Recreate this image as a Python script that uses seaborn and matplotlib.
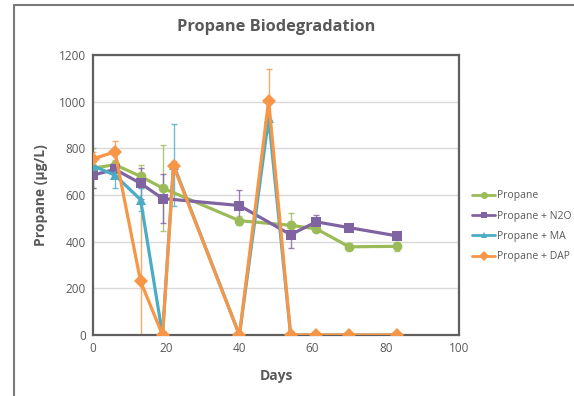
import matplotlib
matplotlib.use("Agg")
import matplotlib.pyplot as plt
import numpy as np
import pandas as pd
import seaborn as sns
from matplotlib.lines import Line2D

# Values
days_short = [0, 6, 13, 19, 40, 54, 61, 70, 83]
days_long = [0, 6, 13, 19, 22, 40, 48, 54, 61, 70, 83]

propane = [715, 730, 680, 630, 490, 470, 455, 378, 380]
propane_err = [85, 20, 50, 183, 20, 55, 15, 15, 20]

propane_n2o = [685, 710, 650, 585, 555, 430, 485, 460, 425]
propane_n2o_err = [55, 30, 65, 105, 65, 55, 30, 10, 10]

propane_ma = [725, 685, 580, 0, 730, 0, 930, 0, 0, 0, 0]
propane_ma_err = [40, 55, 50, 0, 175, 0, 60, 0, 0, 0, 0]

propane_dap = [755, 785, 230, 0, 725, 0, 1005, 0, 0, 0, 0]
propane_dap_err = [30, 45, 330, 0, 20, 0, 135, 0, 0, 0, 0]

series_names = ["Propane", "Propane + N2O", "Propane + MA", "Propane + DAP"]
colors = ["#9BBB59", "#8064A2", "#4BACC6", "#F79646"]
markers = ["o", "s", "^", "D"]

series = [
    (days_short, propane, propane_err),
    (days_short, propane_n2o, propane_n2o_err),
    (days_long, propane_ma, propane_ma_err),
    (days_long, propane_dap, propane_dap_err),
]

rows = []
for name, (d, v, e) in zip(series_names, series):
    for x, y, err in zip(d, v, e):
        rows.append({"Days": x, "Value": y, "Err": err, "Series": name})
df = pd.DataFrame(rows)

sns.set_style("white")
plt.rcParams["font.family"] = ["Open Sans", "DejaVu Sans"]

fig = plt.figure(figsize=(5.74, 3.96), dpi=100)
ax = fig.add_axes([93 / 574, 1 - 335 / 396, 366 / 574, 280 / 396])

palette = dict(zip(series_names, colors))
marker_map = dict(zip(series_names, markers))

# error bars first, thin and lighter
for name in series_names:
    sub = df[df["Series"] == name]
    ax.errorbar(sub["Days"], sub["Value"], yerr=sub["Err"], fmt="none",
                ecolor=palette[name], elinewidth=1, capsize=2.5,
                capthick=1, alpha=0.8, zorder=2)

sns.lineplot(data=df, x="Days", y="Value", hue="Series", style="Series",
             palette=palette, markers=marker_map, dashes=False, sort=False,
             linewidth=2.3, markersize=7, markeredgewidth=0,
             legend=False, ax=ax, zorder=3)

ax.set_xlim(0, 100)
ax.set_ylim(0, 1200)
ax.set_xticks(np.arange(0, 101, 20))
ax.set_yticks(np.arange(0, 1201, 200))
ax.grid(axis="y", color="#d9d9d9", linewidth=1)
ax.set_axisbelow(True)
for s in ax.spines.values():
    s.set_color("#5f5f5f")
    s.set_linewidth(1.6)
ax.tick_params(length=0, labelsize=8.5, colors="#595959", pad=5)

ax.set_xlabel("Days", fontsize=10, fontweight="bold", color="#595959", labelpad=10)
ax.set_ylabel("Propane (µg/L)", fontsize=10, fontweight="bold", color="#595959", labelpad=8)
fig.text(276 / 574, 1 - 27 / 396, "Propane Biodegradation", ha="center", va="center",
         fontsize=11.8, fontweight="bold", color="#595959")

handles = [Line2D([0], [0], color=c, marker=m, markersize=5, linewidth=2,
                  markeredgewidth=0)
           for c, m in zip(colors, markers)]
fig.legend(handles, series_names, loc="upper left",
           bbox_to_anchor=(463 / 574, 1 - 181 / 396), frameon=False,
           fontsize=7.5, handlelength=2.2, handletextpad=0.2,
           labelspacing=0.9, labelcolor="#595959")

# outer chart frame (cut at right and bottom edges)
frame_kw = dict(color="#7a7a7a", linewidth=1.5, transform=fig.transFigure)
fig.add_artist(Line2D([14 / 574, 14 / 574], [0, 1 - 5 / 396], **frame_kw))
fig.add_artist(Line2D([14 / 574, 1], [1 - 5 / 396, 1 - 5 / 396], **frame_kw))

fig.savefig("out.png", dpi=100)
